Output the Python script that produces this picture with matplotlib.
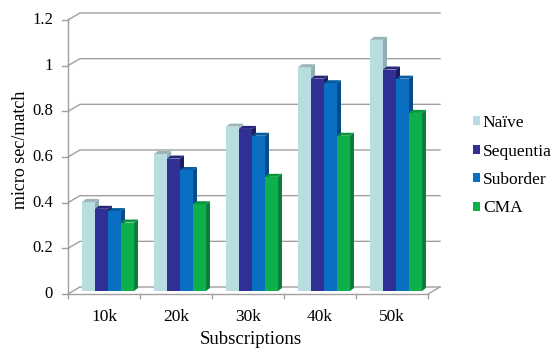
import matplotlib
matplotlib.use("Agg")
import matplotlib.pyplot as plt
from matplotlib.patches import Polygon, Patch

plt.rcParams['font.family'] = ['Liberation Serif', 'DejaVu Serif']

categories = ['10k', '20k', '30k', '40k', '50k']
series = ['Naïve', 'Sequentia', 'Suborder', 'CMA']
naive = [0.39, 0.60, 0.72, 0.98, 1.10]
sequential = [0.36, 0.58, 0.71, 0.93, 0.97]
suborder = [0.35, 0.53, 0.68, 0.91, 0.93]
cma = [0.30, 0.38, 0.50, 0.68, 0.78]
yticks = [0, 0.2, 0.4, 0.6, 0.8, 1, 1.2]
ytick_labels = ['0', '0.2', '0.4', '0.6', '0.8', '1', '1.2']

front_cols = ['#b8dde1', '#303095', '#0a6fc2', '#0db04b']
side_cols = ['#8fb0b3', '#1c1c63', '#064b88', '#08803a']
top_cols = ['#9db4b6', '#25257a', '#085a9f', '#0a963f']

fig = plt.figure(figsize=(5.52, 3.49), dpi=100)
# axes = plane the bars stand on; 72 px per category, 228 px per unit
ax = fig.add_axes([68 / 552, 58 / 349, 360 / 552, 274 / 349])
ax.set_xlim(0, 5)
ax.set_ylim(0, 1.2)
ax.axis('off')

px_x = 5 / 360
px_y = 1.2 / 274
grid_c = '#a0a0a0'

# front / back offsets of the 3d box (data units)
fy = -3 * px_y
bx = 12 * px_x
by = 4 * px_y

for v, lab in zip(yticks, ytick_labels):
    ax.plot([0, bx, 5 + bx], [v + fy, v + by, v + by], color=grid_c, lw=1, clip_on=False, zorder=1)
    ax.plot([-6 * px_x, 0], [v + fy, v + fy], color=grid_c, lw=1, clip_on=False, zorder=1)
    ax.text(-15 * px_x, v + fy, lab, ha='right', va='center', fontsize=12)

# left axis, front floor edge, right floor edge
ax.plot([0, 0], [fy, 1.2 + fy], color=grid_c, lw=1, clip_on=False, zorder=1)
ax.plot([0, 5], [fy, fy], color=grid_c, lw=1, clip_on=False, zorder=1)
ax.plot([5, 5 + bx], [fy, by], color=grid_c, lw=1, clip_on=False, zorder=1)
for i in range(6):
    ax.plot([i, i], [fy, fy - 4 * px_y], color=grid_c, lw=1, clip_on=False, zorder=1)
for i, c in enumerate(categories):
    ax.text(i + 0.5, -26 * px_y, c, ha='center', va='center', fontsize=12.5)

ax.text(2.54, -49 * px_y, 'Subscriptions', ha='center', va='center', fontsize=13.5)
ax.text(-47 * px_x, 0.62, 'micro sec/match', ha='center', va='center', rotation=90, fontsize=13)

# bars with 3d side and top faces
w = 13 * px_x
dx = 4 * px_x
dy = 3 * px_y
values = [naive, sequential, suborder, cma]
for i in range(len(categories)):
    for j, vals in enumerate(values):
        z = 2 + i * 10 + j * 2
        left = i + 14 * px_x + j * w
        h = vals[i]
        ax.bar(left, h, width=w, align='edge', color=front_cols[j], lw=0, zorder=z)
        right = left + w
        ax.add_patch(Polygon([(right, 0), (right + dx, dy), (right + dx, h + dy), (right, h)],
                             closed=True, fc=side_cols[j], lw=0, zorder=z + 1, clip_on=False))
        ax.add_patch(Polygon([(left, h), (left + dx, h + dy), (right + dx, h + dy), (right, h)],
                             closed=True, fc=top_cols[j], lw=0, zorder=z + 1, clip_on=False))

handles = [Patch(fc=front_cols[j], lw=0) for j in range(4)]
fig.legend(handles, series, loc='upper left', bbox_to_anchor=(473 / 552, 1 - 115 / 349),
           frameon=False, fontsize=12.5, handlelength=0.42, handleheight=0.42,
           handletextpad=0.15, labelspacing=0.72, borderpad=0, borderaxespad=0)

fig.savefig('out.png', dpi=100)
